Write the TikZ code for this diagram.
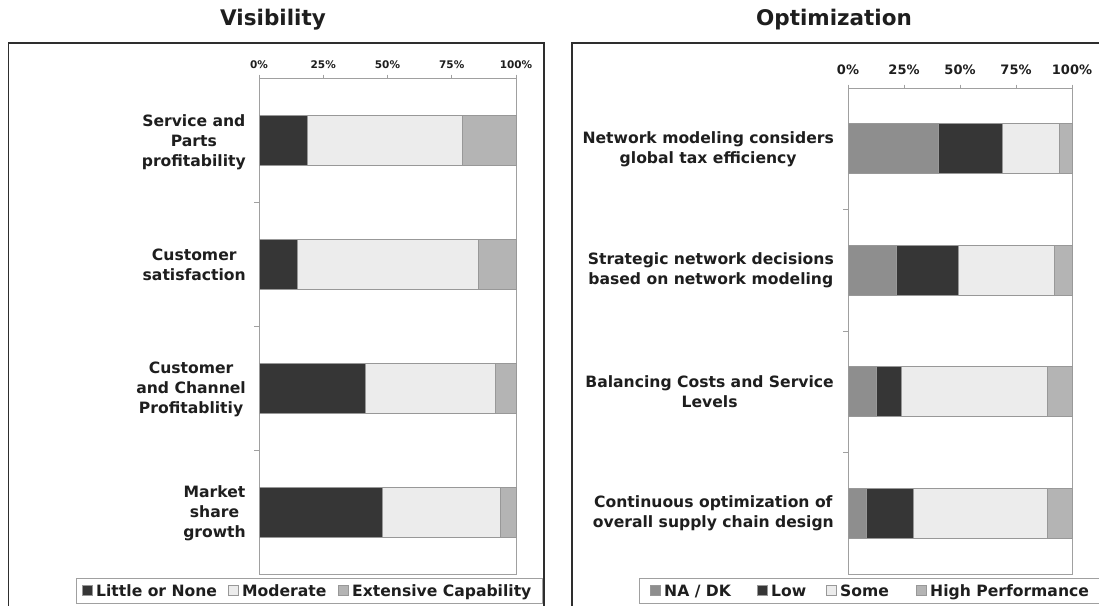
\documentclass[tikz,border=0pt]{standalone}
\usepackage{fontspec}
\setmainfont{DejaVu Sans}
\definecolor{txt}{HTML}{1E1E1E}
\definecolor{framec}{HTML}{2E2E2E}
\definecolor{axisc}{HTML}{A0A0A0}
\definecolor{segline}{HTML}{989898}
\definecolor{dk}{HTML}{363636}
\definecolor{lt}{HTML}{ECECEC}
\definecolor{md}{HTML}{B4B4B4}
\definecolor{na}{HTML}{8E8E8E}
\begin{document}
\begin{tikzpicture}[x=1pt,y=-1pt,
  frame/.style={draw=framec,line width=1.6pt},
  title/.style={text=txt,font=\bfseries\fontsize{21.5}{25}\selectfont,inner sep=0pt},
  cat/.style={text=txt,font=\bfseries\fontsize{15.6}{20}\selectfont,align=center,anchor=east,inner sep=0pt},
  tickl/.style={text=txt,font=\bfseries\fontsize{10.5}{12}\selectfont,inner sep=0pt},
  tickr/.style={text=txt,font=\bfseries\fontsize{13}{15}\selectfont,inner sep=0pt},
  legtext/.style={text=txt,font=\bfseries\fontsize{15.6}{18}\selectfont,anchor=base west,inner sep=0pt},
  plotbox/.style={draw=axisc,line width=0.9pt},
  seg/.style={draw=segline,line width=0.8pt},
  legbox/.style={draw=axisc,line width=0.9pt,fill=white},
  legmark/.style={draw=segline,line width=0.6pt}]
\useasboundingbox[fill=white] (0,0) rectangle (1099,605);
\clip (0,0) rectangle (1099,605);

% panel frames (open at the bottom / right edge)
\draw[frame] (8.5,615) -- (8.5,43) -- (544,43) -- (544,615);
\draw[frame] (572,615) -- (572,43) -- (1110,43);

% titles
\node[title] (tvis) at (273,20) {Visibility};
\node[title] (topt) at (834,20) {Optimization};

% ---------------- Visibility chart ----------------
\draw[plotbox] (259,78) rectangle (516,574);
\foreach \k in {0,...,4} {
  \pgfmathsetmacro\tx{259+64.25*\k}
  \draw[axisc,line width=0.8pt] (\tx,74.5) -- (\tx,78);
}
\foreach \k in {1,2,3} \draw[axisc,line width=0.8pt] (254,78+124*\k) -- (259,78+124*\k);
\node[tickl] (lt0) at (259,65) {0\%};
\node[tickl] (lt1) at (323.25,65) {25\%};
\node[tickl] (lt2) at (387.5,65) {50\%};
\node[tickl] (lt3) at (451.75,65) {75\%};
\node[tickl] (lt4) at (516,65) {100\%};

\foreach \i/\a/\b in {1/19/79, 2/15/85.5, 3/41.5/92, 4/48/94} {
  \pgfmathsetmacro\yc{78+124*(\i-0.5)}
  \pgfmathsetmacro\xa{259+2.57*\a}
  \pgfmathsetmacro\xb{259+2.57*\b}
  \draw[seg,fill=dk] (259,\yc-25) rectangle (\xa,\yc+25);
  \draw[seg,fill=lt] (\xa,\yc-25) rectangle (\xb,\yc+25);
  \draw[seg,fill=md] (\xb,\yc-25) rectangle (516,\yc+25);
}
\node[cat] (v1) at (246,142) {Service and\\Parts\\profitability};
\node[cat] (v2) at (246,265) {Customer\\satisfaction};
\node[cat] (v3) at (246,389) {Customer\\and Channel\\Profitablitiy};
\node[cat] (v4) at (246,513) {Market\\share\\growth};

% legend
\draw[legbox] (76,578) rectangle (542,603);
\draw[legmark,fill=dk] (82,585.5) rectangle (92,595.5);
\node[legtext] (lg1) at (96,596) {Little or None};
\draw[legmark,fill=lt] (228,585.5) rectangle (238,595.5);
\node[legtext] (lg2) at (242,596) {Moderate};
\draw[legmark,fill=md] (338,585.5) rectangle (348,595.5);
\node[legtext] (lg3) at (352,596) {Extensive Capability};

% ---------------- Optimization chart ----------------
\draw[plotbox] (848,88) rectangle (1072,574);
\foreach \k in {0,...,4} {
  \pgfmathsetmacro\tx{848+56*\k}
  \draw[axisc,line width=0.8pt] (\tx,84.5) -- (\tx,88);
}
\foreach \k in {1,2,3} \draw[axisc,line width=0.8pt] (843,88+121.5*\k) -- (848,88+121.5*\k);
\node[tickr] (rt0) at (848,70) {0\%};
\node[tickr] (rt1) at (904,70) {25\%};
\node[tickr] (rt2) at (960,70) {50\%};
\node[tickr] (rt3) at (1016,70) {75\%};
\node[tickr] (rt4) at (1072,70) {100\%};

\foreach \i/\a/\b/\c in {1/40.5/69/94.5, 2/21.5/49.5/92, 3/12.5/24/89, 4/8/29/89} {
  \pgfmathsetmacro\yc{88+121.5*(\i-0.5)}
  \pgfmathsetmacro\xa{848+2.24*\a}
  \pgfmathsetmacro\xb{848+2.24*\b}
  \pgfmathsetmacro\xc{848+2.24*\c}
  \draw[seg,fill=na] (848,\yc-25) rectangle (\xa,\yc+25);
  \draw[seg,fill=dk] (\xa,\yc-25) rectangle (\xb,\yc+25);
  \draw[seg,fill=lt] (\xb,\yc-25) rectangle (\xc,\yc+25);
  \draw[seg,fill=md] (\xc,\yc-25) rectangle (1072,\yc+25);
}
\node[cat] (o1) at (834,149) {Network modeling considers\\global tax efficiency};
\node[cat] (o2) at (834,270) {Strategic network decisions\\based on network modeling};
\node[cat] (o3) at (834,392) {Balancing Costs and Service\\Levels};
\node[cat] (o4) at (834,513) {Continuous optimization of\\overall supply chain design};

% legend
\draw[legbox] (639,578) rectangle (1110,603);
\draw[legmark,fill=na] (650,585.5) rectangle (660,595.5);
\node[legtext] (lr1) at (664,596) {NA / DK};
\draw[legmark,fill=dk] (757,585.5) rectangle (767,595.5);
\node[legtext] (lr2) at (771,596) {Low};
\draw[legmark,fill=lt] (826,585.5) rectangle (836,595.5);
\node[legtext] (lr3) at (840,596) {Some};
\draw[legmark,fill=md] (916,585.5) rectangle (926,595.5);
\node[legtext] (lr4) at (930,596) {High Performance};
\end{tikzpicture}
\end{document}
